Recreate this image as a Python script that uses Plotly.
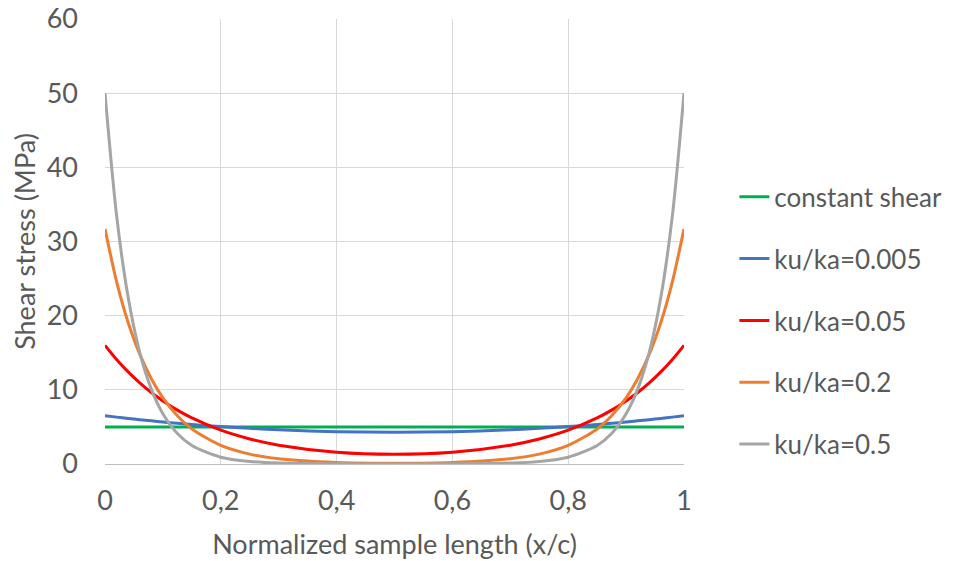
import plotly.graph_objects as go

x_pts = [0, 0.02, 0.04, 0.06, 0.08, 0.1, 0.125, 0.15, 0.2, 0.25, 0.3, 0.4, 0.5,
         0.6, 0.7, 0.75, 0.8, 0.85, 0.875, 0.9, 0.92, 0.94, 0.96, 0.98, 1]

x_const = [0, 1]
y_const = [5, 5]

y_0005 = [6.51, 6.32, 6.14, 5.97, 5.82, 5.67, 5.49, 5.33, 5.04, 4.81, 4.61, 4.36, 4.28,
          4.36, 4.61, 4.81, 5.04, 5.33, 5.49, 5.67, 5.82, 5.97, 6.14, 6.32, 6.51]
y_005 = [16.0, 14.10, 12.42, 10.94, 9.64, 8.50, 7.26, 6.21, 4.56, 3.38, 2.54, 1.59, 1.32,
         1.59, 2.54, 3.38, 4.56, 6.21, 7.26, 8.50, 9.64, 10.94, 12.42, 14.10, 16.0]
y_02 = [31.7, 24.60, 19.09, 14.81, 11.50, 8.92, 6.50, 4.73, 2.51, 1.33, 0.71, 0.21, 0.11,
        0.21, 0.71, 1.33, 2.51, 4.73, 6.50, 8.92, 11.50, 14.81, 19.09, 24.60, 31.7]
y_05 = [50.0, 33.52, 22.47, 15.06, 10.09, 6.77, 4.10, 2.49, 0.92, 0.34, 0.12, 0.02, 0.01,
        0.02, 0.12, 0.34, 0.92, 2.49, 4.10, 6.77, 10.09, 15.06, 22.47, 33.52, 50.0]

names = ["constant shear", "ku/ka=0.005", "ku/ka=0.05", "ku/ka=0.2", "ku/ka=0.5"]
colors = ["#00B050", "#4472C4", "#FF0000", "#ED7D31", "#A5A5A5"]
series = [(x_const, y_const), (x_pts, y_0005), (x_pts, y_005), (x_pts, y_02), (x_pts, y_05)]

x_ticks = [0, 0.2, 0.4, 0.6, 0.8, 1]
y_ticks = [0, 10, 20, 30, 40, 50, 60]

FONT = "Lato"
TXT = "#595959"
FS = 27

fig = go.Figure()
for i, (name, col, (xs, ys)) in enumerate(zip(names, colors, series)):
    fig.add_trace(go.Scatter(
        x=xs, y=ys, mode="lines", name=name,
        line=dict(color=col, width=3, shape="spline", smoothing=0.8),
        legendgroup=f"g{i}",
    ))

fig.update_layout(
    width=949, height=553,
    margin=dict(l=97, r=273, t=11, b=97, autoexpand=False),
    paper_bgcolor="white", plot_bgcolor="white",
    separators=", ",
    font=dict(family=FONT, size=FS, color=TXT),
    showlegend=True,
    legend=dict(
        x=1.087, y=0.653, xanchor="left", yanchor="top",
        traceorder="grouped", tracegroupgap=25,
        font=dict(family=FONT, size=26, color=TXT),
        bgcolor="rgba(0,0,0,0)",
    ),
    xaxis=dict(
        range=[0, 1], tickvals=x_ticks, ticktext=["0", "0,2", "0,4", "0,6", "0,8", "1"],
        showgrid=True, gridcolor="#D9D9D9", gridwidth=1,
        showline=True, linecolor="#BFBFBF", linewidth=1,
        zeroline=False, ticks="", ticklabelstandoff=13, ticklabeloverflow="allow",
        title=dict(text="Normalized sample length (x/c)", standoff=19,
                   font=dict(family=FONT, size=FS, color=TXT)),
    ),
    yaxis=dict(
        range=[0, 60], tickvals=y_ticks,
        showgrid=True, gridcolor="#D9D9D9", gridwidth=1,
        showline=False, zeroline=False, ticks="", ticklabelstandoff=26,
        ticklabeloverflow="allow",
        title=dict(text="Shear stress (MPa)", standoff=12,
                   font=dict(family=FONT, size=FS, color=TXT)),
    ),
)

fig.write_html("out.html")
